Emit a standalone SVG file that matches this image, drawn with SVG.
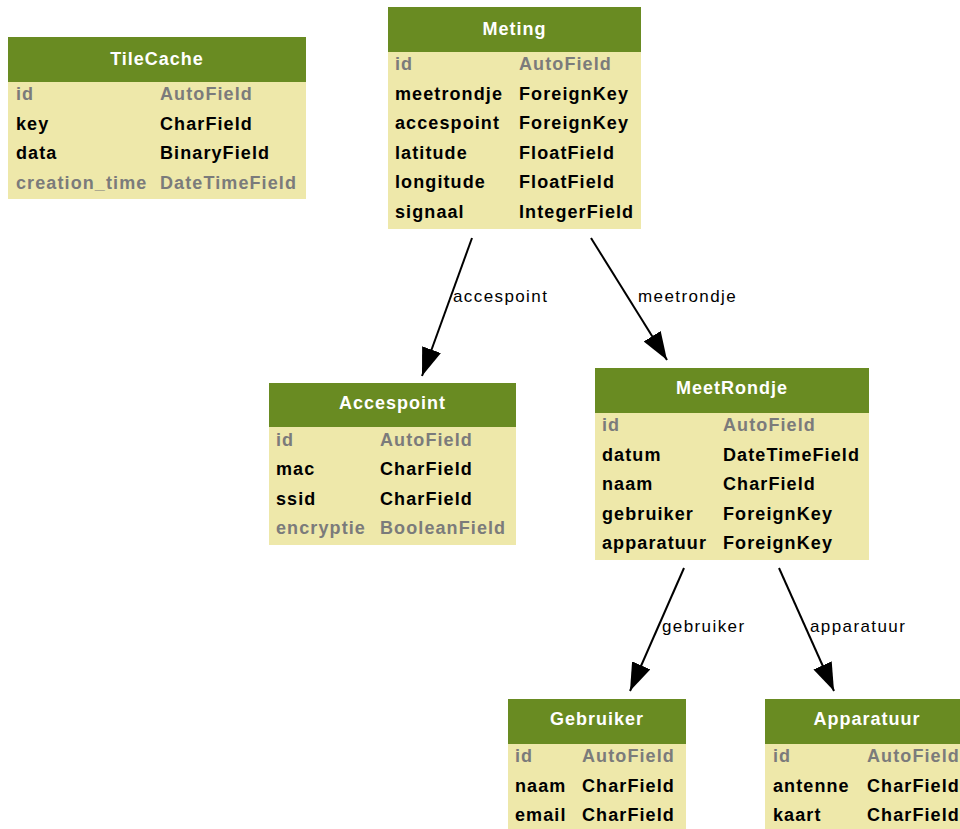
<svg xmlns="http://www.w3.org/2000/svg" width="960" height="829" viewBox="0 0 960 829">
<defs>
<style>
.hdr{fill:#698B22}
.body{fill:#EEE8AA}
.title{font-family:"Liberation Sans",Arial,sans-serif;font-weight:bold;font-size:18px;fill:#ffffff;text-anchor:middle;letter-spacing:1px}
.f{font-family:"Liberation Sans",Arial,sans-serif;font-weight:bold;font-size:18px;fill:#000000;letter-spacing:1.1px}
.g{fill:#7B7B7B}
.edge{stroke:#000;stroke-width:2;fill:none}
.lbl{font-family:"Liberation Sans",Arial,sans-serif;font-size:17px;fill:#000;letter-spacing:1.4px}
</style>
<marker id="arr" viewBox="0 0 28 20" refX="28" refY="10" markerWidth="28" markerHeight="20" markerUnits="userSpaceOnUse" orient="auto">
<path d="M0,0 L28,10 L0,20 Z" fill="#000"/>
</marker>
</defs>
<rect width="960" height="829" fill="#ffffff"/>

<g id="connectors">
<g id="e-accespoint"><line class="edge" x1="472" y1="238" x2="422" y2="376" marker-end="url(#arr)"/><text class="lbl" x="453" y="302">accespoint</text></g>
<g id="e-meetrondje"><line class="edge" x1="591" y1="238" x2="667" y2="360" marker-end="url(#arr)"/><text class="lbl" x="638" y="302">meetrondje</text></g>
<g id="e-gebruiker"><line class="edge" x1="684" y1="568" x2="630" y2="691" marker-end="url(#arr)"/><text class="lbl" x="662" y="632">gebruiker</text></g>
<g id="e-apparatuur"><line class="edge" x1="779" y1="568" x2="834" y2="691" marker-end="url(#arr)"/><text class="lbl" x="810" y="632">apparatuur</text></g>
</g>

<g id="TileCache">
<rect class="body" x="8" y="82" width="298" height="117"/>
<rect class="hdr" x="8" y="37" width="298" height="45"/>
<text class="title" x="157" y="65">TileCache</text>
<text class="f g" x="16" y="100">id</text><text class="f g" x="160" y="100">AutoField</text>
<text class="f" x="16" y="130">key</text><text class="f" x="160" y="130">CharField</text>
<text class="f" x="16" y="159">data</text><text class="f" x="160" y="159">BinaryField</text>
<text class="f g" x="16" y="189">creation_time</text><text class="f g" x="160" y="189">DateTimeField</text>
</g>

<g id="Meting">
<rect class="body" x="388" y="52" width="253" height="177"/>
<rect class="hdr" x="388" y="7" width="253" height="45"/>
<text class="title" x="514.5" y="35">Meting</text>
<text class="f g" x="395" y="70">id</text><text class="f g" x="519" y="70">AutoField</text>
<text class="f" x="395" y="100">meetrondje</text><text class="f" x="519" y="100">ForeignKey</text>
<text class="f" x="395" y="129">accespoint</text><text class="f" x="519" y="129">ForeignKey</text>
<text class="f" x="395" y="159">latitude</text><text class="f" x="519" y="159">FloatField</text>
<text class="f" x="395" y="188">longitude</text><text class="f" x="519" y="188">FloatField</text>
<text class="f" x="395" y="218">signaal</text><text class="f" x="519" y="218">IntegerField</text>
</g>

<g id="Accespoint">
<rect class="body" x="269" y="427" width="247" height="118"/>
<rect class="hdr" x="269" y="383" width="247" height="44"/>
<text class="title" x="392.5" y="409">Accespoint</text>
<text class="f g" x="276" y="446">id</text><text class="f g" x="380" y="446">AutoField</text>
<text class="f" x="276" y="475">mac</text><text class="f" x="380" y="475">CharField</text>
<text class="f" x="276" y="505">ssid</text><text class="f" x="380" y="505">CharField</text>
<text class="f g" x="276" y="534">encryptie</text><text class="f g" x="380" y="534">BooleanField</text>
</g>

<g id="MeetRondje">
<rect class="body" x="595" y="413" width="274" height="147"/>
<rect class="hdr" x="595" y="368" width="274" height="45"/>
<text class="title" x="732" y="394">MeetRondje</text>
<text class="f g" x="602" y="431">id</text><text class="f g" x="723" y="431">AutoField</text>
<text class="f" x="602" y="461">datum</text><text class="f" x="723" y="461">DateTimeField</text>
<text class="f" x="602" y="490">naam</text><text class="f" x="723" y="490">CharField</text>
<text class="f" x="602" y="520">gebruiker</text><text class="f" x="723" y="520">ForeignKey</text>
<text class="f" x="602" y="549">apparatuur</text><text class="f" x="723" y="549">ForeignKey</text>
</g>

<g id="Gebruiker">
<rect class="body" x="508" y="744" width="178" height="90"/>
<rect class="hdr" x="508" y="699" width="178" height="45"/>
<text class="title" x="597" y="725">Gebruiker</text>
<text class="f g" x="515" y="762">id</text><text class="f g" x="582" y="762">AutoField</text>
<text class="f" x="515" y="792">naam</text><text class="f" x="582" y="792">CharField</text>
<text class="f" x="515" y="821">email</text><text class="f" x="582" y="821">CharField</text>
</g>

<g id="Apparatuur">
<rect class="body" x="765" y="744" width="204" height="90"/>
<rect class="hdr" x="765" y="699" width="204" height="45"/>
<text class="title" x="867" y="725">Apparatuur</text>
<text class="f g" x="773" y="762">id</text><text class="f g" x="867" y="762">AutoField</text>
<text class="f" x="773" y="792">antenne</text><text class="f" x="867" y="792">CharField</text>
<text class="f" x="773" y="821">kaart</text><text class="f" x="867" y="821">CharField</text>
</g>
</svg>
